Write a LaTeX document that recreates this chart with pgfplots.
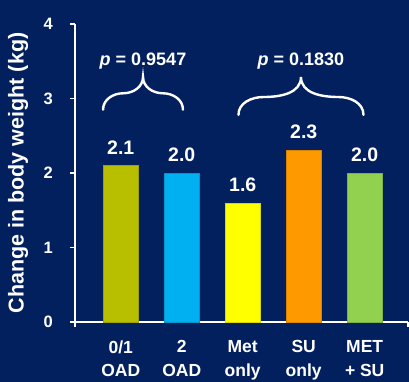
\documentclass[border=0pt]{standalone}
\usepackage{fontspec}
\setmainfont{Liberation Sans}
\usepackage{pgfplots}
\pgfplotsset{compat=1.18}

\definecolor{bgnavy}{RGB}{3,32,94}
\definecolor{barolive}{RGB}{183,191,0}
\definecolor{barcyan}{RGB}{0,176,240}
\definecolor{baryellow}{RGB}{255,255,0}
\definecolor{barorange}{RGB}{255,153,0}
\definecolor{bargreen}{RGB}{146,208,80}

% y tick label: bold digit with a fixed gap to the axis line
\newcommand{\ytl}[1]{{\fontsize{16.5}{16.5}\selectfont\bfseries #1}\hspace*{17pt}}

\begin{document}
\begin{tikzpicture}
\useasboundingbox (-75pt,-60pt) rectangle (334pt,322pt);
\fill[bgnavy] (-75pt,-60pt) rectangle (334pt,322pt);
\begin{axis}[
  at={(0,0)}, anchor=south west,
  scale only axis, width=333pt, height=298pt,
  xmin=-0.75, xmax=4.71, ymin=0, ymax=4,
  axis x line=bottom, axis y line=left,
  axis line style={white, line width=1.3pt, -},
  ytick={0,1,2,3,4},
  yticklabels={\ytl{0},\ytl{1},\ytl{2},\ytl{3},\ytl{4}},
  tick align=outside, major tick length=5pt,
  ytick style={white, line width=1.3pt},
  xtick={0,1,2,3,4},
  xticklabels={0/1\\OAD, 2\\OAD, Met\\only, SU\\only, MET\\+ SU},
  xtick style={draw=none},
  every y tick label/.style={text=white, anchor=east, inner sep=0pt},
  every x tick label/.append style={font=\bfseries\fontsize{17.5}{23.5}\selectfont, text=white, align=center, yshift=-10pt},
  every axis y label/.style={at={(axis description cs:-0.171,0.5)}, rotate=90, anchor=center},
  ylabel={Change in body weight (kg)},
  ylabel style={font=\bfseries\fontsize{21.5}{21.5}\selectfont, text=white},
  ybar, bar width=35pt,
  nodes near coords,
  point meta=y,
  every node near coord/.append style={font=\bfseries\fontsize{19.5}{19.5}\selectfont, text=white, yshift=8pt,
    /pgf/number format/.cd, fixed, fixed zerofill, precision=1, assume math mode=true},
  clip=false,
]
\addplot[fill=barolive, draw=barolive!85!black, bar shift=0pt] coordinates {(0,2.1)};
\addplot[fill=barcyan, draw=barcyan!85!black, bar shift=0pt] coordinates {(1,2.0)};
\addplot[fill=baryellow, draw=baryellow!85!black, bar shift=0pt] coordinates {(2,1.6)};
\addplot[fill=barorange, draw=barorange!85!black, bar shift=0pt] coordinates {(3,2.3)};
\addplot[fill=bargreen, draw=bargreen!85!black, bar shift=0pt] coordinates {(4,2.0)};

% end ticks of the category axis
\draw[white, line width=1.3pt] (axis cs:-0.75,0) -- ++(0pt,-5pt);
\draw[white, line width=1.3pt] (axis cs:4.71,0) -- ++(0pt,-5pt);

% comparison braces
\draw[white, line width=2.4pt, line cap=round]
  (axis cs:-0.29,2.85) to[out=90,in=180] (axis cs:0.04,3.07) to[out=0,in=270] (axis cs:0.365,3.29)
  to[out=270,in=180] (axis cs:0.69,3.07) to[out=0,in=90] (axis cs:1.02,2.85);
\draw[white, line width=2.4pt, line cap=round]
  (axis cs:1.93,2.78) to[out=90,in=180] (axis cs:2.34,3.02) to[out=0,in=270] (axis cs:2.955,3.29)
  to[out=270,in=180] (axis cs:3.57,3.02) to[out=0,in=90] (axis cs:3.98,2.78);
\node[text=white, font=\bfseries\fontsize{18}{18}\selectfont] at (axis cs:0.365,3.5) {\textit{p} = 0.9547};
\node[text=white, font=\bfseries\fontsize{18}{18}\selectfont] at (axis cs:2.955,3.5) {\textit{p} = 0.1830};
\end{axis}
\end{tikzpicture}
\end{document}
